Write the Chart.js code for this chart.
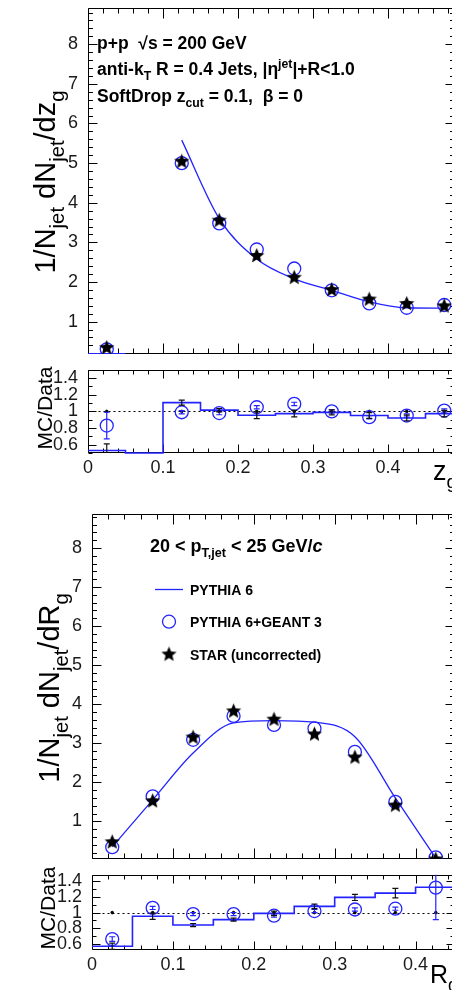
<!DOCTYPE html>
<html>
<head>
<meta charset="utf-8">
<script src="https://cdn.jsdelivr.net/npm/chart.js@4.4.0/dist/chart.umd.min.js"></script>
<style>
  html, body { margin: 0; padding: 0; background: #fff; }
  body { width: 452px; height: 990px; overflow: hidden; position: relative; }
  canvas { position: absolute; left: 0; }
</style>
</head>
<body>
<canvas id="zgMain" width="480" height="362" style="top:0px"></canvas>
<canvas id="zgRatio" width="480" height="130" style="top:362px"></canvas>
<canvas id="rgMain" width="480" height="375" style="top:492px"></canvas>
<canvas id="rgRatio" width="480" height="123" style="top:867px"></canvas>
<script>
// ---- z_g panel data ----
const zgBinEdges = [0, 0.05, 0.1, 0.15, 0.2, 0.25, 0.3, 0.35, 0.4, 0.45, 0.5];
const zgCenters = [0.025, 0.125, 0.175, 0.225, 0.275, 0.325, 0.375, 0.425, 0.475];
const zgStar = [0.35, 5.05, 3.56, 2.67, 2.12, 1.81, 1.57, 1.46, 1.40];
const zgGeant = [0.30, 5.00, 3.48, 2.82, 2.34, 1.79, 1.46, 1.35, 1.42];
const zgPythia = [0.19, 5.58, 3.60, 2.58, 2.08, 1.79, 1.50, 1.35, 1.34];
// ratio: one value per bin (zgBinEdges), markers at zgCenters
const zgPythiaRatio = [0.53, 0.5, 1.105, 1.015, 0.953, 0.973, 0.988, 0.95, 0.92, 0.973];
const zgPythiaRatioErr = [0.08, 0, 0.03, 0.02, 0.04, 0.04, 0.03, 0.035, 0.035, 0.04];
const zgGeantRatio = [0.83, 0.99, 0.98, 1.05, 1.09, 1.00, 0.93, 0.95, 1.01];
const zgGeantRatioErr = [0.16, 0.02, 0.02, 0.02, 0.02, 0.02, 0.02, 0.02, 0.02];
const zgDataRatio = [1, 1, 1, 1, 1, 1, 1, 1, 1];

// ---- R_g panel data ----
const rgBinEdges = [0, 0.05, 0.1, 0.15, 0.2, 0.25, 0.3, 0.35, 0.4, 0.45];
const rgCenters = [0.025, 0.075, 0.125, 0.175, 0.225, 0.275, 0.325, 0.375, 0.425];
const rgStar = [0.48, 1.53, 3.16, 3.83, 3.62, 3.24, 2.65, 1.42, 0.04];
const rgGeant = [0.34, 1.64, 3.09, 3.70, 3.47, 3.38, 2.78, 1.50, 0.08];
const rgPythia = [0.35, 1.55, 2.75, 3.52, 3.58, 3.54, 3.17, 1.60, 0.06];
const rgPythiaRatio = [0.568, 0.953, 0.84, 0.91, 0.99, 1.08, 1.195, 1.25, 1.325];
const rgPythiaRatioErr = [0.04, 0.04, 0.02, 0.02, 0.03, 0.03, 0.04, 0.06, 0];
const rgGeantRatio = [0.66, 1.06, 0.98, 0.98, 0.96, 1.02, 1.04, 1.05, 1.32];
const rgGeantRatioErr = [0.03, 0.02, 0.02, 0.02, 0.02, 0.02, 0.02, 0.02, 0.41];
const rgDataRatio = [1, 1, 1, 1, 1, 1, 1, 1, 1];

// ---- tick labels ----
const zgXTicks = [0, 0.1, 0.2, 0.3, 0.4];
const zgXLabels = ['0', '0.1', '0.2', '0.3', '0.4'];
const rgXTicks = [0, 0.1, 0.2, 0.3, 0.4];
const rgXLabels = ['0', '0.1', '0.2', '0.3', '0.4'];
const mainYTicks = [1, 2, 3, 4, 5, 6, 7, 8];
const mainYLabels = ['1', '2', '3', '4', '5', '6', '7', '8'];
const ratioYTicks = [0.6, 0.8, 1, 1.2, 1.4];
const ratioYLabels = ['0.6', '0.8', '1', '1.2', '1.4'];

const BLUE = 'rgb(35,35,255)';
const FONT = '"Liberation Sans", Arial, Helvetica, sans-serif';
const CANVAS_W = 480;
const FRAME_RIGHT = 454;

// helpers
const xy = (xs, ys) => xs.map((x, i) => ({ x, y: ys[i] }));
const stepPoints = (edges, vals) => vals.map((v, i) => ({ x: edges[i], y: v }))
    .concat([{ x: edges[vals.length], y: vals[vals.length - 1] }]);

function makeStar(size) {
    const c = document.createElement('canvas');
    c.width = c.height = size;
    const g = c.getContext('2d');
    const R = size / 2 - 0.5, r = R * 0.45, cx = size / 2, cy = size / 2 + 0.5;
    g.beginPath();
    for (let i = 0; i < 10; i++) {
        const ang = -Math.PI / 2 + i * Math.PI / 5;
        const rad = i % 2 ? r : R;
        g.lineTo(cx + rad * Math.cos(ang), cy + rad * Math.sin(ang));
    }
    g.closePath();
    g.fillStyle = '#000';
    g.fill();
    return c;
}
const STAR_IMG = makeStar(17);

// rich text (sub / superscripts)
function setFont(ctx, size, kind, bold) {
    ctx.font = (kind === 'it' ? 'italic ' : '') + (bold ? 'bold ' : '') + size + 'px ' + FONT;
}
const partSize = (k, s) => (k === 'sub' || k === 'sup') ? s * 0.7 : s;
const partShift = (k, s) => k === 'sub' ? s * 0.3 : k === 'sup' ? -s * 0.42 : 0;
function richWidth(ctx, parts, size, bold) {
    return parts.reduce((w, [t, k]) => {
        setFont(ctx, partSize(k, size), k, bold);
        return w + ctx.measureText(t).width;
    }, 0);
}
function drawRich(ctx, parts, x, y, size, bold) {
    let cx = x;
    parts.forEach(([t, k]) => {
        setFont(ctx, partSize(k, size), k, bold);
        ctx.fillText(t, cx, y + partShift(k, size));
        cx += ctx.measureText(t).width;
    });
}
function drawRichRotated(ctx, parts, bx, cy, size, bold) {
    ctx.save();
    ctx.translate(bx, cy);
    ctx.rotate(-Math.PI / 2);
    drawRich(ctx, parts, -richWidth(ctx, parts, size, bold) / 2, 0, size, bold);
    ctx.restore();
}

function steps(min, max, step) {
    const out = [];
    for (let i = Math.ceil(min / step - 1e-6); i * step <= max + 1e-9; i++) out.push(i * step);
    return out;
}
const isMajor = (v, m) => Math.abs(v / m - Math.round(v / m)) < 1e-6;

// ROOT-like frame with inward ticks on all sides
function frame(cfg) {
    return {
        id: 'frame',
        beforeDatasetsDraw(chart) {
            const { ctx, chartArea: a, scales: { x, y } } = chart;
            const L = Math.round(a.left) + 0.5, R = Math.round(a.right) + 0.5;
            const T = Math.round(a.top) + 0.5, B = Math.round(a.bottom) - 0.5;
            ctx.save();
            if (cfg.unity) {
                const py = Math.round(y.getPixelForValue(1)) + 0.5;
                ctx.strokeStyle = '#000';
                ctx.lineWidth = 1.2;
                ctx.setLineDash([2, 3]);
                ctx.beginPath();
                ctx.moveTo(L, py);
                ctx.lineTo(R, py);
                ctx.stroke();
                ctx.setLineDash([]);
            }
            ctx.strokeStyle = '#000';
            ctx.lineWidth = 1;
            ctx.beginPath();
            ctx.rect(L, T, R - L, B - T);
            steps(x.min, x.max, cfg.xMinor).forEach(v => {
                const len = isMajor(v, cfg.xMajor) ? cfg.xLen : cfg.xLen / 2;
                const px = Math.round(x.getPixelForValue(v)) + 0.5;
                ctx.moveTo(px, B); ctx.lineTo(px, B - len);
                ctx.moveTo(px, T); ctx.lineTo(px, T + len);
            });
            steps(y.min, y.max, cfg.yMinor).forEach(v => {
                const len = isMajor(v, cfg.yMajor) ? cfg.yLen : cfg.yLen / 2;
                const py = Math.round(y.getPixelForValue(v)) + 0.5;
                ctx.moveTo(L, py); ctx.lineTo(L + len, py);
                ctx.moveTo(R, py); ctx.lineTo(R - len, py);
            });
            ctx.stroke();
            ctx.restore();
        }
    };
}

// vertical error bars from dataset.errors
const errorBars = {
    id: 'errorBars',
    afterDatasetsDraw(chart) {
        const { ctx, chartArea: a, scales: { x, y } } = chart;
        ctx.save();
        ctx.beginPath();
        ctx.rect(a.left, a.top, a.right - a.left, a.bottom - a.top);
        ctx.clip();
        chart.data.datasets.forEach(ds => {
            if (!ds.errors) return;
            ctx.strokeStyle = ds.errorColor;
            ctx.lineWidth = 1.2;
            ds.data.forEach((p, i) => {
                const e = ds.errors[i];
                if (!e) return;
                const px = x.getPixelForValue(p.x);
                const y0 = y.getPixelForValue(p.y - e), y1 = y.getPixelForValue(p.y + e);
                ctx.beginPath();
                ctx.moveTo(px, y0); ctx.lineTo(px, y1);
                ctx.moveTo(px - 3, y0); ctx.lineTo(px + 3, y0);
                ctx.moveTo(px - 3, y1); ctx.lineTo(px + 3, y1);
                ctx.stroke();
            });
        });
        ctx.restore();
    }
};

function textPlugin(draw) {
    return {
        id: 'text',
        afterDraw(chart) {
            const ctx = chart.ctx;
            ctx.save();
            ctx.fillStyle = '#000';
            ctx.textAlign = 'left';
            ctx.textBaseline = 'alphabetic';
            draw(ctx);
            ctx.restore();
        }
    };
}

function panelOptions(o) {
    const tickFont = { family: FONT, size: 18 };
    return {
        responsive: false,
        animation: false,
        events: [],
        layout: { padding: { left: 0, right: CANVAS_W - FRAME_RIGHT, top: o.padTop, bottom: o.padBottom } },
        plugins: { legend: { display: false }, tooltip: { enabled: false } },
        scales: {
            x: {
                type: 'linear', min: o.xMin, max: o.xMax, display: !!o.xLabels,
                grid: { display: false }, border: { display: false },
                ticks: {
                    font: tickFont, color: '#1a1a1a', padding: -4, maxRotation: 0, autoSkip: false,
                    callback: (v, i) => o.xLabels ? o.xLabels[i] : ''
                },
                afterBuildTicks: s => { s.ticks = o.xTicks.map(v => ({ value: v })); },
                afterFit: s => { s.height = o.xHeight || 0; s.paddingLeft = 0; s.paddingRight = 0; }
            },
            y: {
                type: 'linear', min: o.yMin, max: o.yMax,
                grid: { display: false }, border: { display: false },
                ticks: {
                    font: tickFont, color: '#1a1a1a', padding: 2, autoSkip: false,
                    callback: (v, i) => o.yLabels[i]
                },
                afterBuildTicks: s => { s.ticks = o.yTicks.map(v => ({ value: v })); },
                afterFit: s => { s.width = o.left; s.paddingTop = 0; s.paddingBottom = 0; }
            }
        }
    };
}

function mainDatasets(centers, star, geant, curveX, curveY) {
    return [
        { data: xy(centers, star), showLine: false, pointStyle: STAR_IMG, pointRadius: 7, order: 0 },
        {
            data: xy(centers, geant), showLine: false, pointStyle: 'circle', pointRadius: 6.5,
            pointBorderColor: BLUE, pointBackgroundColor: 'rgba(0,0,0,0)', pointBorderWidth: 1.3, order: 1
        },
        {
            data: xy(curveX, curveY), borderColor: BLUE, borderWidth: 1.3, pointRadius: 0,
            cubicInterpolationMode: 'monotone', fill: false, order: 2
        }
    ];
}

function ratioDatasets(edges, centers, histVals, histErr, geantVals, geantErr, dataVals) {
    return [
        {
            data: xy(centers, geantVals), showLine: false, pointStyle: 'circle', pointRadius: 6.5,
            pointBorderColor: BLUE, pointBackgroundColor: 'rgba(0,0,0,0)', pointBorderWidth: 1.3,
            errors: geantErr, errorColor: BLUE, order: 0
        },
        {
            data: xy(centers, dataVals), showLine: false, pointRadius: 1.3,
            pointBackgroundColor: '#000', pointBorderColor: '#000', order: 1
        },
        {
            data: stepPoints(edges, histVals), stepped: true, borderColor: BLUE, borderWidth: 1.6,
            pointRadius: 0, fill: false, clip: 3, order: 2
        },
        {
            data: xy(edges.slice(0, -1).map((e, i) => (e + edges[i + 1]) / 2), histVals),
            showLine: false, pointRadius: 0, errors: histErr, errorColor: '#111', order: 3
        }
    ];
}

// ---------- z_g main ----------
const zgMainSets = mainDatasets(zgCenters, zgStar, zgGeant, zgCenters.slice(1), zgPythia.slice(1));
zgMainSets.push({
    data: stepPoints(zgBinEdges.slice(0, 2), [zgPythia[0]]), borderColor: BLUE, borderWidth: 1.3,
    pointRadius: 0, fill: false, order: 2
});
new Chart(document.getElementById('zgMain'), {
    type: 'line',
    data: { datasets: zgMainSets },
    options: panelOptions({
        left: 88, padTop: 7, padBottom: 2, xMin: 0, xMax: 0.488, yMin: 0.183, yMax: 8.914,
        xTicks: zgXTicks, yTicks: mainYTicks, yLabels: mainYLabels
    }),
    plugins: [
        frame({ xMajor: 0.1, xMinor: 0.02, xLen: 10, yMajor: 1, yMinor: 0.2, yLen: 9 }),
        errorBars,
        textPlugin(ctx => {
            drawRichRotated(ctx, [['1/N', 'n'], ['jet', 'sub'], [' dN', 'n'], ['jet', 'sub'], ['/dz', 'n'], ['g', 'sub']], 55, 182, 29, false);
            drawRich(ctx, [['p+p  \u221As = 200 GeV', 'n']], 97, 49, 17.5, true);
            drawRich(ctx, [['anti-k', 'n'], ['T', 'sub'], [' R = 0.4 Jets, |\u03B7', 'n'], ['jet', 'sup'], ['|+R<1.0', 'n']], 97, 75, 17.5, true);
            drawRich(ctx, [['SoftDrop z', 'n'], ['cut', 'sub'], [' = 0.1,  \u03B2 = 0', 'n']], 97, 101.5, 17.5, true);
        })
    ]
});

// ---------- z_g ratio ----------
new Chart(document.getElementById('zgRatio'), {
    type: 'line',
    data: { datasets: ratioDatasets(zgBinEdges, zgCenters, zgPythiaRatio, zgPythiaRatioErr, zgGeantRatio, zgGeantRatioErr, zgDataRatio) },
    options: panelOptions({
        left: 88, padTop: 6, padBottom: 0, xMin: 0, xMax: 0.488, yMin: 0.5, yMax: 1.5,
        xTicks: zgXTicks, xLabels: zgXLabels, xHeight: 39, yTicks: ratioYTicks, yLabels: ratioYLabels
    }),
    plugins: [
        frame({ xMajor: 0.1, xMinor: 0.02, xLen: 8, yMajor: 0.2, yMinor: 0.1, yLen: 8, unity: true }),
        errorBars,
        textPlugin(ctx => {
            drawRichRotated(ctx, [['MC/Data', 'n']], 52, 46, 21, false);
            drawRich(ctx, [['z', 'n'], ['g', 'sub']], 433, 118, 27, false);
        })
    ]
});

// ---------- R_g main ----------
new Chart(document.getElementById('rgMain'), {
    type: 'line',
    data: { datasets: mainDatasets(rgCenters, rgStar, rgGeant, rgCenters, rgPythia) },
    options: panelOptions({
        left: 92, padTop: 22, padBottom: 1, xMin: 0, xMax: 0.4475, yMin: 0.038, yMax: 8.87,
        xTicks: rgXTicks, yTicks: mainYTicks, yLabels: mainYLabels
    }),
    plugins: [
        frame({ xMajor: 0.1, xMinor: 0.02, xLen: 10, yMajor: 1, yMinor: 0.2, yLen: 9 }),
        errorBars,
        textPlugin(ctx => {
            drawRichRotated(ctx, [['1/N', 'n'], ['jet', 'sub'], [' dN', 'n'], ['jet', 'sub'], ['/dR', 'n'], ['g', 'sub']], 59, 196, 29, false);
            drawRich(ctx, [['20 < p', 'n'], ['T,jet', 'sub'], [' < 25 GeV/', 'n'], ['c', 'it']], 150, 60, 18, true);
            // legend
            ctx.strokeStyle = BLUE;
            ctx.lineWidth = 1.3;
            ctx.beginPath();
            ctx.moveTo(155, 97.5);
            ctx.lineTo(183, 97.5);
            ctx.stroke();
            ctx.beginPath();
            ctx.arc(169, 129.7, 6.5, 0, Math.PI * 2);
            ctx.stroke();
            ctx.drawImage(STAR_IMG, 169 - STAR_IMG.width / 2, 162 - STAR_IMG.height / 2);
            drawRich(ctx, [['PYTHIA 6', 'n']], 190, 102.5, 14, true);
            drawRich(ctx, [['PYTHIA 6+GEANT 3', 'n']], 190, 135, 14, true);
            drawRich(ctx, [['STAR (uncorrected)', 'n']], 190, 167.5, 14, true);
        })
    ]
});

// ---------- R_g ratio ----------
new Chart(document.getElementById('rgRatio'), {
    type: 'line',
    data: { datasets: ratioDatasets(rgBinEdges, rgCenters, rgPythiaRatio, rgPythiaRatioErr, rgGeantRatio, rgGeantRatioErr, rgDataRatio) },
    options: panelOptions({
        left: 92, padTop: 1, padBottom: 0, xMin: 0, xMax: 0.4475, yMin: 0.52, yMax: 1.485,
        xTicks: rgXTicks, xLabels: rgXLabels, xHeight: 40, yTicks: ratioYTicks, yLabels: ratioYLabels
    }),
    plugins: [
        frame({ xMajor: 0.1, xMinor: 0.02, xLen: 8, yMajor: 0.2, yMinor: 0.1, yLen: 8, unity: true }),
        errorBars,
        textPlugin(ctx => {
            drawRichRotated(ctx, [['MC/Data', 'n']], 55, 41, 21, false);
            drawRich(ctx, [['R', 'n'], ['g', 'sub']], 430, 116, 25, false);
        })
    ]
});
</script>
</body>
</html>
